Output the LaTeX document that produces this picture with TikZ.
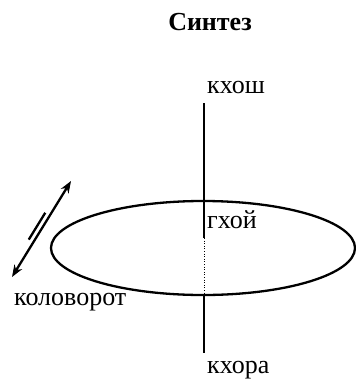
\documentclass[tikz,border=0pt]{standalone}
\usepackage{fontspec}
\setmainfont{Liberation Serif}
\usepackage{tikz}
\usetikzlibrary{positioning, arrows.meta, shapes.geometric, calc}

\begin{document}
\begin{tikzpicture}[
    x=1pt, y=-1pt,
    label/.style={inner sep=0pt, anchor=base west, font=\fontsize{26}{30}\selectfont},
    titlebox/.style={inner sep=0pt, anchor=base, font=\fontsize{26}{30}\selectfont\bfseries},
    axisline/.style={line width=2.3pt},
    ring/.style={ellipse, draw, line width=2.3pt, inner sep=0pt, minimum width=304pt, minimum height=94pt},
    turn/.style={line width=2.3pt, {Stealth[length=12pt, width=9pt]}-{Stealth[length=12pt, width=9pt]}},
]
\useasboundingbox (0,0) rectangle (356,384);

% Title
\node[titlebox] (title) at (210,30) {Синтез};

% Ring round the axis
\node[ring] (disc) at (203,248) {};

% Axis
\coordinate (top) at (204,103);
\coordinate (mid) at (204,238);
\coordinate (bot) at (204,353);
\draw[axisline] (top) -- (mid);
\draw[line width=0.6pt, dotted] (mid) -- (disc.south -| mid);
\draw[axisline] (disc.south -| mid) -- (bot);

% Labels
\node[label] (khosh) at (207,93) {кхош};
\node[label] (ghoj) at (207,228) {гхой};
\node[label] (khora) at (207,373) {кхора};
\node[label] (kolovorot) at (14,305) {коловорот};

% Double arrow and its parallel mark
\coordinate (a1) at (12,277);
\coordinate (a2) at (71,181);
\draw[turn] (a1) -- (a2);
\draw[line width=2.3pt] ($(a1)!0.36!(a2)+(-4.5,-2.8)$) -- ($(a1)!0.64!(a2)+(-4.5,-2.8)$);

\end{tikzpicture}
\end{document}
